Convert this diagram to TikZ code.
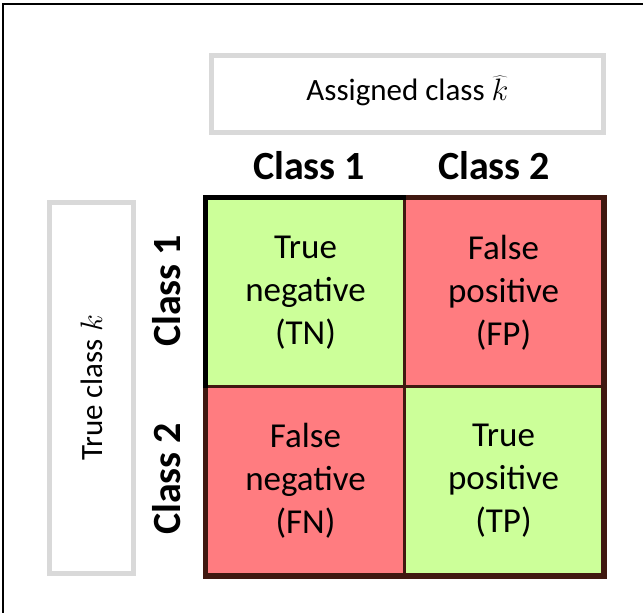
\documentclass[tikz,border=0pt]{standalone}
\usepackage{fix-cm}
\usepackage{fontspec}
\setmainfont{Carlito}
\definecolor{cgreen}{RGB}{204,255,153}
\definecolor{cred}{RGB}{255,124,128}
\definecolor{cbrown}{RGB}{64,24,16}
\definecolor{cgray}{RGB}{217,217,217}
\begin{document}
\begin{tikzpicture}[x=1pt,y=-1pt,
  cell/.style={draw=cbrown,line width=3pt,minimum width=198pt,minimum height=188pt,inner sep=0pt,anchor=north west},
  celltext/.style={align=center,font=\fontsize{35}{43}\selectfont},
  graybox/.style={draw=cgray,line width=5pt,fill=white,inner sep=0pt,anchor=north west},
  header/.style={font=\fontsize{40}{46}\selectfont\bfseries},
  lbl/.style={font=\fontsize{31}{36}\selectfont}]
\useasboundingbox (0,0) rectangle (643,613);
\fill[white] (0,0) rectangle (643,613);
% frame (top and left edges)
\coordinate (ftr) at (643,4);
\coordinate (ftl) at (3,4);
\coordinate (fbl) at (3,613);
\draw[line width=2pt,black] (ftr) -- (ftl) -- (fbl);
% label boxes
\node[graybox,minimum width=392pt,minimum height=77pt] (assigned) at (209,53) {};
\node[lbl] (assignedt) at ([yshift=3pt]assigned.center) {Assigned class $\widehat{k}$};
\node[graybox,minimum width=84pt,minimum height=371pt] (truebox) at (47,200) {};
\node[lbl,rotate=90] (truet) at (truebox.center) {True class $k$};
% cells
\node[cell,fill=cgreen] (tn) at (205,197) {};
\node[cell,fill=cred] (fp) at (403,197) {};
\node[cell,fill=cred] (fn) at (205,385) {};
\node[cell,fill=cgreen] (tp) at (403,385) {};
\draw[cbrown,line width=5pt] (tn.north west) rectangle (tp.south east);
\draw[black,line width=5pt] (tn.south west) -- (tn.north west) -- (tn.north east);
\node[celltext] (tnt) at (tn.center) {True\\negative\\(TN)};
\node[celltext] (fpt) at (fp.center) {False\\positive\\(FP)};
\node[celltext] (fnt) at (fn.center) {False\\negative\\(FN)};
\node[celltext] (tpt) at (tp.center) {True\\positive\\(TP)};
% headers
\node[header] (c1) at (309,166) {Class 1};
\node[header] (c2) at (494,166) {Class 2};
\node[header,rotate=90] (r1) at (167,291) {Class 1};
\node[header,rotate=90] (r2) at (167,479) {Class 2};
\end{tikzpicture}
\end{document}
